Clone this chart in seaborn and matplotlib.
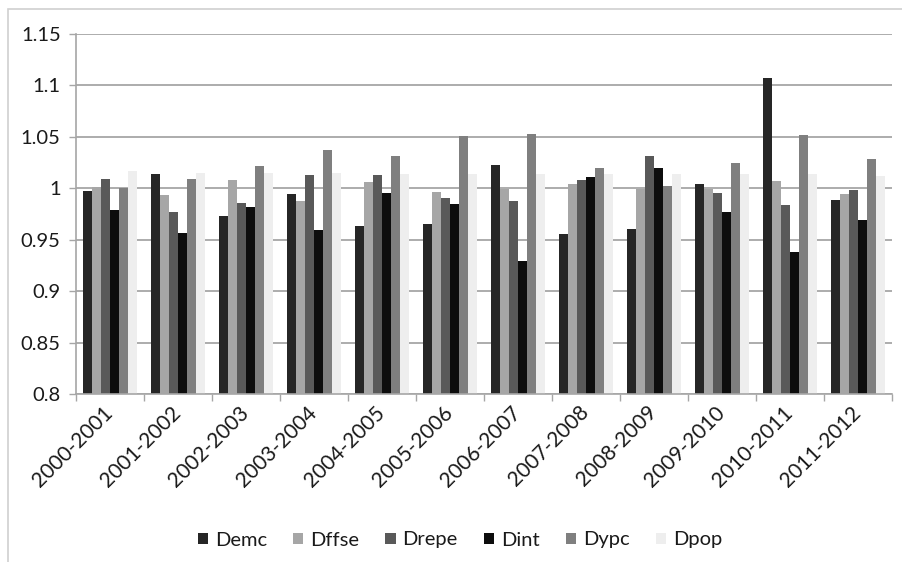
import matplotlib
matplotlib.use("Agg")
import matplotlib.pyplot as plt
from matplotlib.patches import Rectangle
from matplotlib.ticker import FixedLocator
import numpy as np
import pandas as pd
import seaborn as sns

periods = ["2000-2001", "2001-2002", "2002-2003", "2003-2004", "2004-2005", "2005-2006",
           "2006-2007", "2007-2008", "2008-2009", "2009-2010", "2010-2011", "2011-2012"]

demc  = [0.997, 1.014, 0.973, 0.994, 0.963, 0.965, 1.023, 0.956, 0.960, 1.004, 1.107, 0.989]
dffse = [1.001, 0.993, 1.008, 0.988, 1.006, 0.996, 0.999, 1.004, 0.999, 0.999, 1.007, 0.994]
drepe = [1.009, 0.977, 0.986, 1.013, 1.013, 0.991, 0.988, 1.008, 1.031, 0.995, 0.984, 0.998]
dint  = [0.979, 0.957, 0.982, 0.959, 0.995, 0.985, 0.929, 1.011, 1.020, 0.977, 0.938, 0.969]
dypc  = [1.000, 1.009, 1.022, 1.037, 1.031, 1.051, 1.053, 1.020, 1.002, 1.025, 1.052, 1.028]
dpop  = [1.017, 1.015, 1.015, 1.015, 1.014, 1.014, 1.014, 1.014, 1.014, 1.014, 1.014, 1.012]

series_names = ["Demc", "Dffse", "Drepe", "Dint", "Dypc", "Dpop"]
series_values = [demc, dffse, drepe, dint, dypc, dpop]
series_colors = ["#262626", "#a6a6a6", "#595959", "#0d0d0d", "#7f7f7f", "#eeeeee"]

y_ticks = [0.8, 0.85, 0.9, 0.95, 1.0, 1.05, 1.1, 1.15]
y_tick_labels = ["0.8", "0.85", "0.9", "0.95", "1", "1.05", "1.1", "1.15"]

df = pd.DataFrame({
    "period": np.tile(periods, len(series_names)),
    "series": np.repeat(series_names, len(periods)),
    "value": np.concatenate(series_values),
})

sns.set_theme(style="white")
plt.rcParams["font.family"] = ["Lato", "DejaVu Sans"]
FS = 14.5

fig = plt.figure(figsize=(9.02, 5.62), dpi=100)
ax = fig.add_axes([76 / 902, 1 - 394 / 562, (892 - 76) / 902, (394 - 34) / 562])

sns.barplot(data=df, x="period", y="value", hue="series", hue_order=series_names,
            palette=series_colors, order=periods, width=0.8, saturation=1,
            linewidth=0, ax=ax, legend=True)

grid_col = "#a6a6a6"
ax.set_ylim(0.8, 1.15)
ax.set_xlim(-0.5, len(periods) - 0.5)
ax.set_yticks(y_ticks)
ax.set_yticklabels(y_tick_labels)
ax.grid(axis="y", color=grid_col, linewidth=1.3, zorder=0)
ax.set_axisbelow(True)

# category labels at group centres, tick marks at group boundaries
ax.set_xticks(range(len(periods)))
ax.set_xticklabels(periods, rotation=45, ha="right", va="center", rotation_mode="anchor")
ax.xaxis.set_minor_locator(FixedLocator(np.arange(-0.5, len(periods), 1.0)))
ax.tick_params(axis="x", which="major", length=0, pad=11, labelsize=FS + 0.5)
ax.tick_params(axis="x", which="minor", length=5, width=1, color=grid_col, direction="out", bottom=True)
ax.tick_params(axis="y", which="major", length=5, width=1, color=grid_col, direction="out",
               left=True, labelsize=FS, pad=6)
for lab in ax.get_yticklabels() + ax.get_xticklabels():
    lab.set_color("#1a1a1a")

for side in ["top", "right"]:
    ax.spines[side].set_visible(False)
for side in ["left", "bottom"]:
    ax.spines[side].set_color(grid_col)
    ax.spines[side].set_linewidth(1.2)

ax.set_xlabel("")
ax.set_ylabel("")

handles, labels = ax.get_legend_handles_labels()
ax.legend_.remove()
leg = fig.legend(handles, labels, loc="center", bbox_to_anchor=(460 / 902, 1 - 540 / 562),
                 ncol=6, frameon=False, fontsize=FS, handlelength=0.5, handleheight=0.5,
                 handletextpad=0.35, columnspacing=1.3)
for t in leg.get_texts():
    t.set_color("#1a1a1a")

# light outer border of the chart area
fig.patches.append(Rectangle((8 / 902, -0.05), 1.2, 1 - 9 / 562 + 0.05, transform=fig.transFigure,
                             fill=False, edgecolor="#d0d0d0", linewidth=1.2, figure=fig))

fig.savefig("out.png", dpi=100, facecolor="white")
